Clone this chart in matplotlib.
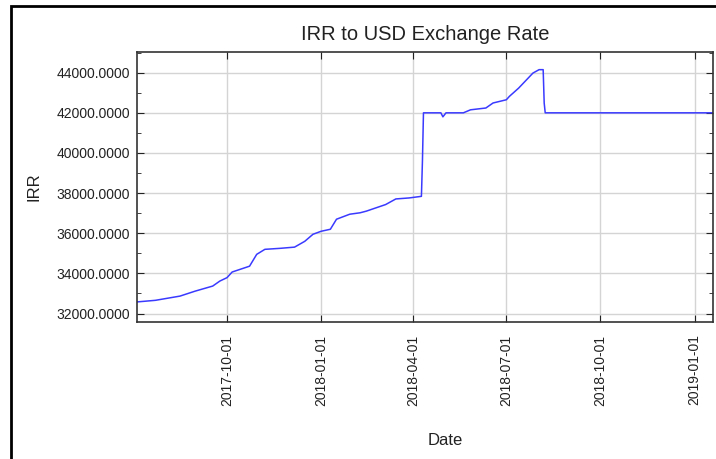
import numpy as np
import pandas as pd
import matplotlib
matplotlib.use("Agg")
import matplotlib.pyplot as plt
import matplotlib.dates as mdates
from matplotlib.patches import Rectangle
from matplotlib.ticker import MultipleLocator, FormatStrFormatter

plt.rcParams['font.family'] = ['Liberation Sans', 'DejaVu Sans']

# values
dates = ["2017-07-05", "2017-07-23", "2017-08-16", "2017-08-31", "2017-09-17",
         "2017-09-24", "2017-10-01", "2017-10-06", "2017-10-23", "2017-10-30",
         "2017-11-07", "2017-11-22", "2017-12-06", "2017-12-16", "2017-12-24",
         "2018-01-01", "2018-01-10", "2018-01-16", "2018-01-29", "2018-02-08",
         "2018-02-14", "2018-03-05", "2018-03-15", "2018-03-28", "2018-04-09",
         "2018-04-10", "2018-04-11", "2018-04-28", "2018-04-30", "2018-05-03",
         "2018-05-20", "2018-05-27", "2018-06-11", "2018-06-18", "2018-07-01",
         "2018-07-04", "2018-07-13", "2018-07-27", "2018-08-02", "2018-08-06",
         "2018-08-07", "2018-08-08", "2019-01-19"]
irr = [32580, 32660, 32870, 33120, 33370,
       33620, 33790, 34070, 34360, 34950,
       35200, 35250, 35310, 35600, 35950,
       36100, 36200, 36700, 36950, 37020,
       37100, 37430, 37710, 37760, 37840,
       39600, 42000, 42000, 41800, 42000,
       42000, 42150, 42240, 42490, 42650,
       42820, 43230, 43980, 44150, 44150,
       42490, 42000, 42000]
x_ticks = ["2017-10-01", "2018-01-01", "2018-04-01", "2018-07-01",
           "2018-10-01", "2019-01-01"]

dt = pd.to_datetime(dates)

fig = plt.figure(figsize=(7.16, 4.59), dpi=100)
ax = fig.add_axes([137/716, 1-322/459, 576/716, 270/459])

# outer frame of the figure
fig.patches.append(Rectangle((11/716, -0.1), 1.2, 1-6/459+0.1,
                             transform=fig.transFigure, fill=False,
                             edgecolor='black', linewidth=2))

ax.plot(dt, irr, color='#3a3aff', linewidth=1.1)

ax.set_xlim(pd.Timestamp("2017-07-05"), pd.Timestamp("2019-01-19"))
ax.set_ylim(31580, 45030)

ax.set_xticks(pd.to_datetime(x_ticks))
ax.xaxis.set_major_formatter(mdates.DateFormatter('%Y-%m-%d'))
ax.yaxis.set_major_locator(MultipleLocator(2000))
ax.yaxis.set_minor_locator(MultipleLocator(1000))
ax.yaxis.set_major_formatter(FormatStrFormatter('%.4f'))

ax.tick_params(axis='both', which='both', direction='in', top=True, right=True,
               colors='#222222', labelsize=10)
ax.tick_params(axis='both', which='major', length=5)
ax.tick_params(axis='y', which='minor', length=3)
ax.tick_params(axis='x', pad=9, labelrotation=90)
ax.tick_params(axis='y', pad=5)

for s in ax.spines.values():
    s.set_color('#333333')
    s.set_linewidth(1.2)

ax.grid(True, which='major', color='#d4d4d4', linewidth=1.0)
ax.set_axisbelow(True)

ax.set_title("IRR to USD Exchange Rate", fontsize=14.5, pad=9, color='#222222')
ax.set_ylabel("IRR", fontsize=12, color='#222222')
ax.yaxis.set_label_coords(-0.165, 0.5)
ax.set_xlabel("Date", fontsize=12, color='#222222')
ax.xaxis.set_label_coords((445-137)/576, -0.41)

fig.savefig("out.png", dpi=100)
